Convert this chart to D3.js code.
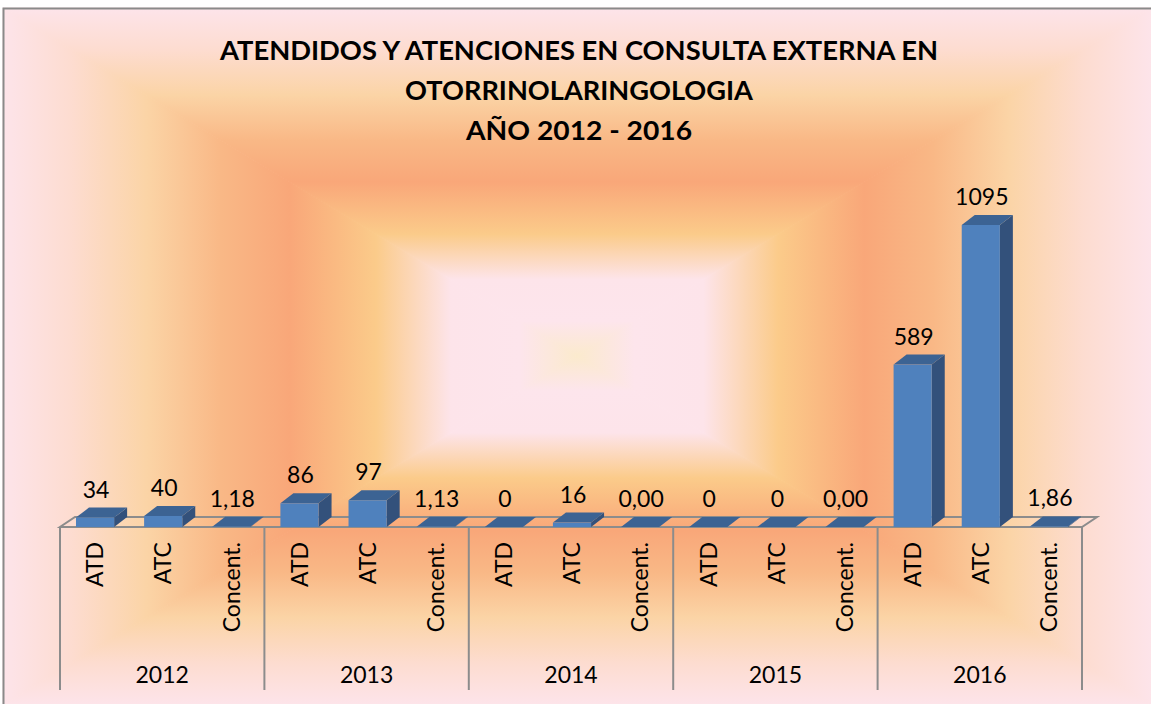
<!DOCTYPE html>
<html>
<head>
<meta charset="utf-8">
<script src="https://cdn.jsdelivr.net/npm/d3@7"></script>
<style>
  body { margin: 0; background: #fff; }
  svg { display: block; }
  text { font-family: Lato, "Open Sans", sans-serif; fill: #000; }
</style>
</head>
<body>
<svg width="1151" height="704"></svg>
<script>
const years = ["2012", "2013", "2014", "2015", "2016"];
const measures = ["ATD", "ATC", "Concent."];
const atd = [34, 86, 0, 0, 589];
const atc = [40, 97, 16, 0, 1095];
const concent = [1.18, 1.13, 0, 0, 1.86];
const titleLines = [
  "ATENDIDOS Y ATENCIONES EN CONSULTA EXTERNA EN",
  "OTORRINOLARINGOLOGIA",
  "AÑO 2012 - 2016"
];

const svg = d3.select("svg");

// flatten into one row per bar
const rows = [];
years.forEach((y, i) => {
  [atd[i], atc[i], concent[i]].forEach((v, j) => {
    rows.push({ year: y, measure: measures[j], key: y + "|" + measures[j], value: v });
  });
});

const fmtInt = d3.format("d");
const fmtDec = v => d3.format(".2f")(v).replace(".", ",");

// background: rectangle-from-center gradient made of four triangles
const box = { x0: 3, y0: 8, x1: 1152, y1: 705 };
const cx = 577, cy = 356;
const stops = [
  [0, "#fbeacd"],
  [0.1, "#fde5ec"],
  [0.22, "#fde4ea"],
  [0.35, "#fbcb8a"],
  [0.5, "#f9a779"],
  [0.62, "#f9b886"],
  [0.75, "#fbd4a6"],
  [0.88, "#fddcd0"],
  [1, "#fde4ea"]
];
const defs = svg.append("defs");
const sides = [
  { id: "gTop", pts: [[cx, cy], [box.x0, box.y0], [box.x1, box.y0]], end: [cx, box.y0] },
  { id: "gBot", pts: [[cx, cy], [box.x0, box.y1], [box.x1, box.y1]], end: [cx, box.y1] },
  { id: "gLeft", pts: [[cx, cy], [box.x0, box.y0], [box.x0, box.y1]], end: [box.x0, cy] },
  { id: "gRight", pts: [[cx, cy], [box.x1, box.y0], [box.x1, box.y1]], end: [box.x1, cy] }
];
sides.forEach(s => {
  const g = defs.append("linearGradient")
    .attr("id", s.id)
    .attr("gradientUnits", "userSpaceOnUse")
    .attr("x1", cx).attr("y1", cy)
    .attr("x2", s.end[0]).attr("y2", s.end[1]);
  stops.forEach(st => g.append("stop").attr("offset", st[0]).attr("stop-color", st[1]));
});
svg.append("g")
  .selectAll("polygon")
  .data(sides)
  .enter()
  .append("polygon")
  .attr("points", d => d.pts.map(p => p.join(",")).join(" "))
  .attr("fill", d => `url(#${d.id})`)
  .attr("stroke", d => `url(#${d.id})`)
  .attr("stroke-width", 1);

svg.append("rect")
  .attr("x", 3.5).attr("y", 8.5)
  .attr("width", 1150).attr("height", 700)
  .attr("fill", "none")
  .attr("stroke", "#8a8a8a")
  .attr("stroke-width", 2);

// title
svg.append("g")
  .selectAll("text")
  .data(titleLines)
  .enter()
  .append("text")
  .attr("x", 579)
  .attr("y", (d, i) => 60 + i * 40)
  .attr("text-anchor", "middle")
  .attr("font-size", 26)
  .attr("font-weight", "bold")
  .attr("textLength", (d, i) => [718, 348, 226][i])
  .attr("lengthAdjust", "spacingAndGlyphs")
  .text(d => d);

// scales
const x = d3.scaleBand().domain(rows.map(d => d.key)).range([60, 1082]).padding(0);
const xYear = d3.scaleBand().domain(years).range([60, 1082]).padding(0);
const y = d3.scaleLinear().domain([0, 1095]).range([527, 225]);

const floorDx = 15, floorDy = -10;
const dx = 13, dy = -10;
const barW = x.bandwidth() * 0.56;
const y0 = y(0);

// floor
svg.append("polygon")
  .attr("points", [
    [x.range()[0], y0], [x.range()[1], y0],
    [x.range()[1] + floorDx, y0 + floorDy], [x.range()[0] + floorDx, y0 + floorDy]
  ].map(p => p.join(",")).join(" "))
  .attr("fill", "none")
  .attr("stroke", "#8c8c8c")
  .attr("stroke-width", 2);

// group separators
const seps = years.map(yr => xYear(yr)).concat([x.range()[1]]);
svg.append("g")
  .selectAll("line")
  .data(seps)
  .enter()
  .append("line")
  .attr("x1", d => d).attr("x2", d => d)
  .attr("y1", y0).attr("y2", 690)
  .attr("stroke", "#8c8c8c")
  .attr("stroke-width", 2);

// bars
const bars = svg.append("g")
  .selectAll("g.bar")
  .data(rows)
  .enter()
  .append("g")
  .attr("class", "bar");

const bx = d => x(d.key) + (x.bandwidth() - barW) / 2 + 1;

bars.append("polygon")
  .attr("points", d => {
    const l = bx(d) + barW, t = y(d.value);
    return [[l, t], [l + dx, t + dy], [l + dx, y0 + dy], [l, y0]].map(p => p.join(",")).join(" ");
  })
  .attr("fill", "#33517b");

bars.append("polygon")
  .attr("points", d => {
    const l = bx(d), t = y(d.value);
    return [[l, t], [l + dx, t + dy], [l + barW + dx, t + dy], [l + barW, t]].map(p => p.join(",")).join(" ");
  })
  .attr("fill", "#3c6393");

bars.append("rect")
  .attr("x", d => bx(d))
  .attr("y", d => y(d.value))
  .attr("width", barW)
  .attr("height", d => y0 - y(d.value))
  .attr("fill", "#4f81bd");

// value labels
bars.append("text")
  .attr("x", d => bx(d) + barW / 2 + 1)
  .attr("y", d => y(d.value) - 20)
  .attr("text-anchor", "middle")
  .attr("font-size", 23)
  .text(d => d.measure === "Concent." ? fmtDec(d.value) : fmtInt(d.value));

// category labels (rotated)
svg.append("g")
  .selectAll("text")
  .data(rows)
  .enter()
  .append("text")
  .attr("transform", d => `translate(${x(d.key) + x.bandwidth() / 2 + 1}, 542) rotate(-90)`)
  .attr("dy", "0.36em")
  .attr("text-anchor", "end")
  .attr("font-size", 23)
  .text(d => d.measure);

// year labels
svg.append("g")
  .selectAll("text")
  .data(years)
  .enter()
  .append("text")
  .attr("x", d => xYear(d) + xYear.bandwidth() / 2)
  .attr("y", 683)
  .attr("text-anchor", "middle")
  .attr("font-size", 23)
  .text(d => d);
</script>
</body>
</html>
